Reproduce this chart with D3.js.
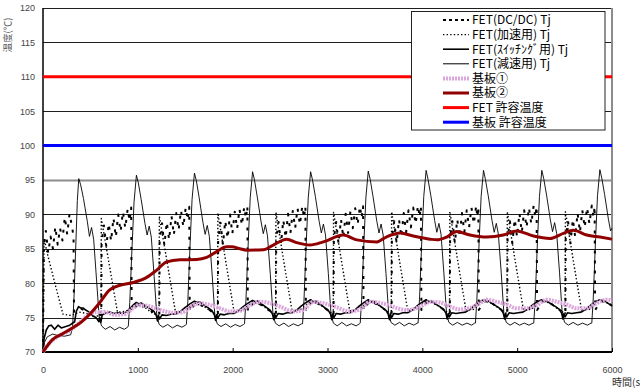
<!DOCTYPE html>
<html><head><meta charset="utf-8">
<script src="https://cdn.jsdelivr.net/npm/d3@7"></script>
<style>body{margin:0;background:#fff}svg{display:block}</style>
</head><body>
<svg id="chart" width="640" height="391"></svg>
<script>
// axis ticks
const xTicks = [0, 1000, 2000, 3000, 4000, 5000, 6000];
const yTicks = [70, 75, 80, 85, 90, 95, 100, 105, 110, 115, 120];

// allowable temperatures
const fetLimit = 110;
const boardLimit = 100;

// series names (legend order)
const seriesNames = ["FET(DC/DC) Tj", "FET(加速用) Tj", "FET(ｽｲｯﾁﾝｸﾞ用) Tj", "FET(減速用) Tj", "基板①", "基板②", "FET 許容温度", "基板 許容温度"];

// [time s, temperature °C]
const dcdcTj = [
  [0,70],[8,85.2],[30,87.6],[55,84.4],[80,86.8],[105,85],[130,88.2],[155,85.6],[180,88],[205,86.2],[230,89.6],[255,87.1],[280,90.1],[305,88.3],[322,86.8],[327,75.8],
  [400,76.3],[480,75.8],[560,75.3],[612,75.4],
  [615,75.4],[618,86.0],[643,88.4],[668,85.3],[693,88.7],[718,86.1],[743,89.5],[768,86.7],[793,90.0],[818,87.5],[843,90.4],[868,88.0],[893,90.8],[913,89.0],[930,91.0],[935,75.8],
  [1000,77.0],[1090,76.5],[1170,75.7],[1224,75.4],
  [1227,75.4],[1230,86.2],[1255,88.7],[1280,85.5],[1305,88.9],[1330,86.3],[1355,89.8],[1380,87.0],[1405,90.2],[1430,87.7],[1455,90.6],[1480,88.2],[1505,91.0],[1525,89.2],[1542,91.1],[1547,75.9],
  [1610,77.1],[1700,76.6],[1790,75.8],[1841,75.5],
  [1844,75.5],[1847,86.4],[1872,88.8],[1897,85.6],[1922,89.1],[1947,86.5],[1972,90.0],[1997,87.2],[2022,90.4],[2047,87.9],[2072,90.8],[2097,88.4],[2122,91.1],[2140,89.4],[2155,91.2],[2160,76.0],
  [2225,77.3],[2310,76.8],[2400,75.9],[2453,75.5],
  [2456,75.5],[2459,86.5],[2484,88.9],[2509,85.7],[2534,89.2],[2559,86.6],[2584,90.1],[2609,87.3],[2634,90.5],[2659,88.0],[2684,90.9],[2709,88.5],[2734,91.2],[2752,89.5],[2767,91.2],[2772,76.0],
  [2837,77.4],[2920,76.9],[3010,76.0],[3061,75.5],
  [3064,75.5],[3067,86.5],[3092,88.9],[3117,85.7],[3142,89.3],[3167,86.6],[3192,90.1],[3217,87.3],[3242,90.5],[3267,88.0],[3292,90.9],[3317,88.5],[3342,91.2],[3360,89.5],[3375,91.2],[3380,76.1],
  [3445,77.4],[3530,76.9],[3620,76.0],[3673,75.6],
  [3676,75.6],[3679,86.6],[3704,89.0],[3729,85.8],[3754,89.3],[3779,86.7],[3804,90.2],[3829,87.4],[3854,90.6],[3879,88.1],[3904,91.0],[3929,88.6],[3954,91.3],[3972,89.6],[3985,91.2],[3990,76.1],
  [4055,77.5],[4140,77.0],[4230,76.1],[4287,75.6],
  [4290,75.6],[4293,86.6],[4318,89.0],[4343,85.8],[4368,89.3],[4393,86.7],[4418,90.2],[4443,87.4],[4468,90.6],[4493,88.1],[4518,91.0],[4543,88.6],[4568,91.3],[4580,89.6],[4591,91.1],[4595,76.1],
  [4660,77.5],[4745,77.0],[4835,76.1],[4893,75.6],
  [4896,75.6],[4899,86.6],[4924,89.0],[4949,85.8],[4974,89.3],[4999,86.7],[5024,90.2],[5049,87.4],[5074,90.6],[5099,88.1],[5124,91.0],[5149,88.6],[5174,91.3],[5192,89.6],[5205,91.2],[5210,76.1],
  [5275,77.5],[5360,77.0],[5450,76.1],[5506,75.6],
  [5509,75.6],[5512,86.6],[5537,89.0],[5562,85.8],[5587,89.3],[5612,86.7],[5637,90.2],[5662,87.4],[5687,90.6],[5712,88.1],[5737,91.0],[5762,88.6],[5787,91.3],[5805,89.6],[5817,91.2],[5822,76.1],
  [5887,77.5],[5970,77.0],[6000,76.7]
];

const accelTj = [
  [0,70],[12,86.5],[40,84.6],[125,80],[210,75.5],[300,75.3],[380,75.8],[460,75.6],[540,75.2],[612,75.3],
  [615,89.4],[700,82.6],[785,75.8],[870,75.9],[985,76.9],[1080,76.4],[1160,75.6],[1224,75.3],
  [1227,89.7],[1312,82.8],[1397,75.8],[1490,75.9],[1597,77.1],[1700,76.6],[1780,75.8],[1841,75.4],
  [1844,90.2],[1929,83.0],[2014,75.9],[2100,76.0],[2210,77.3],[2310,76.8],[2395,75.9],[2453,75.5],
  [2456,90.3],[2541,83.0],[2626,76.0],[2710,76.1],[2822,77.4],[2920,76.9],[3005,76.0],[3061,75.5],
  [3064,90.3],[3149,83.1],[3234,76.0],[3320,76.1],[3430,77.4],[3530,76.9],[3615,76.0],[3673,75.6],
  [3676,90.4],[3761,83.1],[3846,76.0],[3930,76.2],[4040,77.5],[4140,77.0],[4225,76.1],[4287,75.6],
  [4290,90.4],[4375,83.1],[4460,76.1],[4540,76.2],[4645,77.5],[4745,77.0],[4830,76.1],[4893,75.6],
  [4896,90.4],[4981,83.1],[5066,76.1],[5150,76.2],[5260,77.5],[5360,77.0],[5445,76.1],[5506,75.6],
  [5509,90.4],[5594,83.1],[5679,76.1],[5760,76.2],[5872,77.5],[5970,77.0],[6000,76.8]
];

const switchTj = [
  [0,70],[12,72],[35,73.2],[60,73.8],[88,73.9],[123,73.3],[158,73.9],[193,73.5],[240,73.7],[282,73.9],[334,74.4],[351,75.9],[375,76.6],[395,76.4],[422,76.4],[450,76.1],[475,75.9],[500,75.6],[527,75.2],[560,75.0],[590,74.4],[598,75.0],[610,74.3],[625,75.4],[651,75.6],[703,75.8],[750,75.6],[791,75.7],[840,75.6],[879,75.8],[920,76.4],[949,76.8],[984,77.2],
  [1010,77.0],[1040,77.1],[1080,76.7],[1130,76.3],[1170,75.9],[1195,75.3],[1208,74.5],[1218,75.3],[1230,74.8],[1255,75.4],[1300,75.3],[1350,75.5],[1400,75.5],[1450,75.9],[1500,76.5],[1550,77.0],[1597,77.4],
  [1622,77.2],[1652,77.3],[1692,76.9],[1742,76.4],[1782,76.0],[1807,75.4],[1820,74.6],[1830,75.4],[1842,74.9],[1867,75.5],[1912,75.4],[1962,75.6],[2012,75.6],[2062,76.0],[2112,76.6],[2162,77.1],[2210,77.5],
  [2235,77.3],[2265,77.4],[2305,77.0],[2355,76.5],[2395,76.1],[2420,75.5],[2433,74.7],[2443,75.5],[2455,75.0],[2480,75.6],[2525,75.5],[2575,75.7],[2625,75.7],[2675,76.1],[2725,76.7],[2775,77.2],[2822,77.6],
  [2847,77.3],[2877,77.4],[2917,77.0],[2967,76.5],[3007,76.1],[3032,75.5],[3045,74.7],[3055,75.5],[3067,75.0],[3092,75.6],[3137,75.5],[3187,75.7],[3237,75.7],[3287,76.1],[3337,76.7],[3387,77.2],[3430,77.6],
  [3455,77.3],[3485,77.4],[3525,77.0],[3575,76.5],[3615,76.1],[3640,75.5],[3653,74.7],[3663,75.5],[3675,75.0],[3700,75.6],[3745,75.5],[3795,75.7],[3845,75.7],[3895,76.1],[3945,76.7],[3995,77.2],[4040,77.6],
  [4065,77.3],[4095,77.4],[4135,77.0],[4185,76.6],[4225,76.2],[4250,75.6],[4263,74.8],[4273,75.6],[4285,75.1],[4310,75.7],[4355,75.6],[4405,75.7],[4455,75.8],[4505,76.2],[4555,76.8],[4605,77.3],[4645,77.6],
  [4670,77.3],[4700,77.4],[4740,77.0],[4790,76.6],[4830,76.2],[4855,75.6],[4868,74.8],[4878,75.6],[4890,75.1],[4915,75.7],[4960,75.6],[5010,75.7],[5060,75.8],[5110,76.2],[5160,76.8],[5210,77.3],[5260,77.6],
  [5285,77.3],[5315,77.4],[5355,77.0],[5405,76.6],[5445,76.2],[5470,75.6],[5483,74.8],[5493,75.6],[5505,75.1],[5530,75.7],[5575,75.6],[5625,75.7],[5675,75.8],[5725,76.2],[5775,76.8],[5825,77.3],[5872,77.6],
  [5897,77.3],[5927,77.4],[5967,77.0],[6000,76.7]
];

const decelTj = [
  [0,70],[15,71.4],[45,72.2],[100,72.6],[160,72.4],[230,72.3],[292,72.5],[312,73.6],
  [327,78],[347,86],[362,92],[377,95.2],[397,94.3],[427,92.3],[467,89],[490,86.8],[512,88.1],[534,86.4],[564,80.6],[592,75.1],[617,73.8],[657,73.3],[707,73.7],[757,73.2],[807,73.6],[857,73.3],[892,73.6],
  [900,73.8],[915,77.2],[940,85.6],[960,91.8],[985,95.7],[1005,94.6],[1035,92.2],[1075,88.7],[1098,87.0],[1120,88.3],[1142,86.7],[1172,81],[1200,75.3],[1225,74.0],[1265,73.6],[1315,74.0],[1365,73.5],[1415,73.9],[1465,73.6],[1502,73.9],
  [1512,74.0],[1527,77.3],[1552,86],[1572,92.2],[1597,96.0],[1617,94.9],[1647,92.4],[1687,88.8],[1710,87.1],[1732,88.4],[1754,86.8],[1784,81.2],[1812,75.4],[1837,74.1],[1877,73.7],[1927,74.1],[1977,73.6],[2027,74.0],[2077,73.7],[2115,74.0],
  [2125,74.1],[2140,77.5],[2165,86.2],[2185,92.4],[2210,96.2],[2230,95.0],[2260,92.5],[2300,88.9],[2323,87.2],[2345,88.5],[2367,86.9],[2397,81.3],[2425,75.5],[2450,74.2],[2490,73.8],[2540,74.2],[2590,73.7],[2640,74.1],[2690,73.8],[2727,74.1],
  [2737,74.1],[2752,77.5],[2777,86.2],[2797,92.4],[2822,96.2],[2842,95.0],[2872,92.6],[2912,89.0],[2935,87.3],[2957,88.6],[2979,87.0],[3009,81.4],[3037,75.5],[3062,74.2],[3102,73.8],[3152,74.3],[3202,73.8],[3252,74.1],[3302,73.8],[3337,74.1],
  [3345,74.2],[3360,77.6],[3385,86.3],[3405,92.5],[3430,96.3],[3450,95.1],[3480,92.6],[3520,89.0],[3543,87.3],[3565,88.6],[3587,87.0],[3617,81.4],[3645,75.6],[3670,74.3],[3710,73.9],[3760,74.3],[3810,73.8],[3860,74.2],[3910,73.9],[3947,74.2],
  [3955,74.2],[3970,77.6],[3995,86.4],[4015,92.6],[4040,96.4],[4060,95.1],[4090,92.7],[4130,89.1],[4153,87.4],[4175,88.7],[4197,87.1],[4227,81.5],[4255,75.6],[4280,74.3],[4320,73.9],[4370,74.3],[4420,73.9],[4470,74.2],[4520,73.9],[4552,74.2],
  [4560,74.2],[4575,77.6],[4600,86.4],[4620,92.6],[4645,96.4],[4665,95.1],[4695,92.7],[4735,89.1],[4758,87.4],[4780,88.7],[4802,87.1],[4832,81.5],[4860,75.6],[4885,74.3],[4925,73.9],[4975,74.3],[5025,73.9],[5075,74.2],[5125,73.9],[5167,74.2],
  [5175,74.2],[5190,77.6],[5215,86.4],[5235,92.6],[5260,96.4],[5280,95.2],[5310,92.8],[5350,89.2],[5373,87.5],[5395,88.8],[5417,87.2],[5447,81.5],[5475,75.6],[5500,74.3],[5540,73.9],[5590,74.3],[5640,73.9],[5690,74.2],[5740,73.9],[5780,74.2],
  [5787,74.2],[5802,77.7],[5827,86.5],[5847,92.7],[5872,96.5],[5892,95.3],[5922,92.9],[5962,89.3],[5985,87.6],[6000,88.0]
];

const board1 = [
  [0,70],[50,71.0],[150,72.2],[280,73.1],[380,74.2],[480,75.4],[560,75.8],[650,75.8],[757,75.4],[862,75.5],[949,76.35],[1002,76.8],[1107,76.7],[1234,76.1],[1374,75.7],[1476,75.8],
  [1585,76.8],[1673,77.1],[1740,76.9],[1866,76.35],[1972,75.9],[2077,76.0],[2183,76.8],[2288,77.3],[2394,77.1],[2499,76.6],[2639,75.9],[2745,76.1],
  [2850,77.3],[2956,77.1],[3097,76.5],[3237,75.9],[3343,76.2],[3448,77.3],[3530,77.2],[3624,76.9],[3730,76.4],[3835,76.1],[3941,76.4],[4046,77.1],
  [4081,77.3],[4186,77.2],[4292,76.6],[4397,76.2],[4503,76.4],[4608,77.1],[4679,77.6],[4784,77.3],[4890,76.9],[4995,76.35],[5101,76.35],[5206,76.8],
  [5312,77.6],[5417,77.3],[5523,76.9],[5628,76.35],[5734,76.35],[5839,77.1],[5944,77.6],[6000,77.5]
];

const board2 = [
  [0,70],[100,71.8],[200,72.6],[300,73.4],[400,74.3],[500,75.6],[600,77.2],[700,79.0],[812,79.7],[952,80.1],[1094,80.85],[1199,81.9],[1304,83.1],[1445,83.4],[1621,83.45],[1726,83.75],
  [1832,84.6],[1937,85.3],[1990,85.3],[2077,85.0],[2148,84.8],[2323,84.85],[2428,85.55],[2570,86.4],[2675,85.9],[2815,85.55],[2956,86.0],[3167,87.0],[3308,86.3],
  [3519,86.0],[3624,86.75],[3765,87.3],[3905,86.85],[4081,86.4],[4152,86.3],[4257,86.7],[4363,87.5],[4503,87.0],[4679,86.7],[4854,87.0],[4995,87.6],
  [5171,86.85],[5346,86.5],[5487,87.25],[5593,87.7],[5734,87.0],[5874,86.7],[6000,86.4]
];

// ---- drawing ----
const plot = { left: 43, right: 612, top: 8, bottom: 352 };
const x = d3.scaleLinear().domain([0, 6000]).range([plot.left, plot.right]);
const y = d3.scaleLinear().domain([70, 120]).range([plot.bottom, plot.top]);
const svg = d3.select("#chart");
const tickFont = "'Liberation Sans', Arial, sans-serif";
const jpFont = "'Noto Sans CJK JP', 'Noto Sans', sans-serif";

// horizontal gridlines
svg.append("g").selectAll("line")
  .data(yTicks.filter(v => v > 70))
  .join("line")
  .attr("x1", x(0)).attr("x2", x(6000))
  .attr("y1", d => Math.round(y(d)) + 0.5).attr("y2", d => Math.round(y(d)) + 0.5)
  .attr("stroke", d => d === 95 ? "#8c8c8c" : "#1e1e1e")
  .attr("stroke-width", d => d === 95 ? 2 : 1);

// right border
svg.append("line").attr("x1", x(6000)).attr("x2", x(6000)).attr("y1", y(120)).attr("y2", y(70))
  .attr("stroke", "#8c8c8c").attr("stroke-width", 2);

// y axis labels
const yAxis = svg.append("g").attr("transform", `translate(${plot.left},0)`)
  .call(d3.axisLeft(y).tickValues(yTicks).tickSize(0).tickPadding(8).tickFormat(d3.format("d")));
yAxis.select(".domain").remove();
yAxis.selectAll("text").attr("font-family", tickFont).attr("font-size", 9).attr("fill", "#444");

// x axis with inward ticks
const xAxis = svg.append("g").attr("transform", `translate(0,${plot.bottom})`)
  .call(d3.axisBottom(x).tickValues(xTicks).tickSizeInner(-4).tickSizeOuter(0).tickPadding(15).tickFormat(d3.format("d")));
xAxis.select(".domain").remove();
xAxis.selectAll(".tick line").attr("stroke", "#000");
xAxis.selectAll("text").attr("font-family", tickFont).attr("font-size", 9).attr("fill", "#444");

// axis lines
svg.append("line").attr("x1", x(0)).attr("x2", x(0)).attr("y1", y(120)).attr("y2", y(70)).attr("stroke", "#000").attr("stroke-width", 1.5);
svg.append("line").attr("x1", x(0) - 1).attr("x2", x(6000)).attr("y1", y(70)).attr("y2", y(70)).attr("stroke", "#000").attr("stroke-width", 2);

// axis titles
svg.append("text").attr("transform", `translate(11,35) rotate(-90)`)
  .attr("text-anchor", "middle").attr("font-family", jpFont).attr("font-size", 9.5).attr("fill", "#555")
  .text("温度(℃)");
svg.append("text").attr("x", 612).attr("y", 386).attr("font-family", jpFont).attr("font-size", 10).attr("fill", "#333")
  .text("時間(s)");

// series styles
const styles = [
  { data: dcdcTj, color: "#000", width: 2, dash: "3,7", curve: d3.curveLinear },
  { data: accelTj, color: "#000", width: 1.4, dash: "1.4,2.2", curve: d3.curveLinear },
  { data: switchTj, color: "#000", width: 1.6, dash: null, curve: d3.curveLinear },
  { data: decelTj, color: "#000", width: 0.9, dash: null, curve: d3.curveLinear },
  { data: board1, color: "#dba6db", width: 4, dash: "2,1", curve: d3.curveMonotoneX },
  { data: board2, color: "#900000", width: 3, dash: null, curve: d3.curveMonotoneX }
];

// allowable temperature lines
svg.append("line").attr("x1", x(0)).attr("x2", x(6000)).attr("y1", y(fetLimit)).attr("y2", y(fetLimit))
  .attr("stroke", "#ff0000").attr("stroke-width", 3);
svg.append("line").attr("x1", x(0)).attr("x2", x(6000)).attr("y1", y(boardLimit)).attr("y2", y(boardLimit))
  .attr("stroke", "#0000ff").attr("stroke-width", 3);

const gSeries = svg.append("g");
styles.forEach(s => {
  const line = d3.line().x(d => x(d[0])).y(d => y(d[1])).curve(s.curve);
  gSeries.append("path").datum(s.data)
    .attr("d", line).attr("fill", "none")
    .attr("stroke", s.color).attr("stroke-width", s.width)
    .attr("stroke-dasharray", s.dash)
    .attr("stroke-linejoin", "round");
});

// legend
const legendStyles = styles.map(s => ({ color: s.color, width: s.width, dash: s.dash }))
  .concat([{ color: "#ff0000", width: 3, dash: null }, { color: "#0000ff", width: 3, dash: null }]);
const lg = svg.append("g");
lg.append("rect").attr("x", 411.5).attr("y", 11.5).attr("width", 193.5).attr("height", 118.5)
  .attr("fill", "#fff").attr("stroke", "#222").attr("stroke-width", 1);
seriesNames.forEach((name, i) => {
  const cy = 20 + i * 14.6;
  const st = legendStyles[i];
  lg.append("line").attr("x1", 443).attr("x2", 469).attr("y1", cy).attr("y2", cy)
    .attr("stroke", st.color).attr("stroke-width", Math.max(st.width, 1))
    .attr("stroke-dasharray", i === 0 ? "3,3" : st.dash);
  lg.append("text").attr("x", 472).attr("y", cy).attr("dy", "0.36em")
    .attr("font-family", jpFont).attr("font-size", 12).attr("fill", "#000")
    .text(name);
});
</script>
</body></html>
